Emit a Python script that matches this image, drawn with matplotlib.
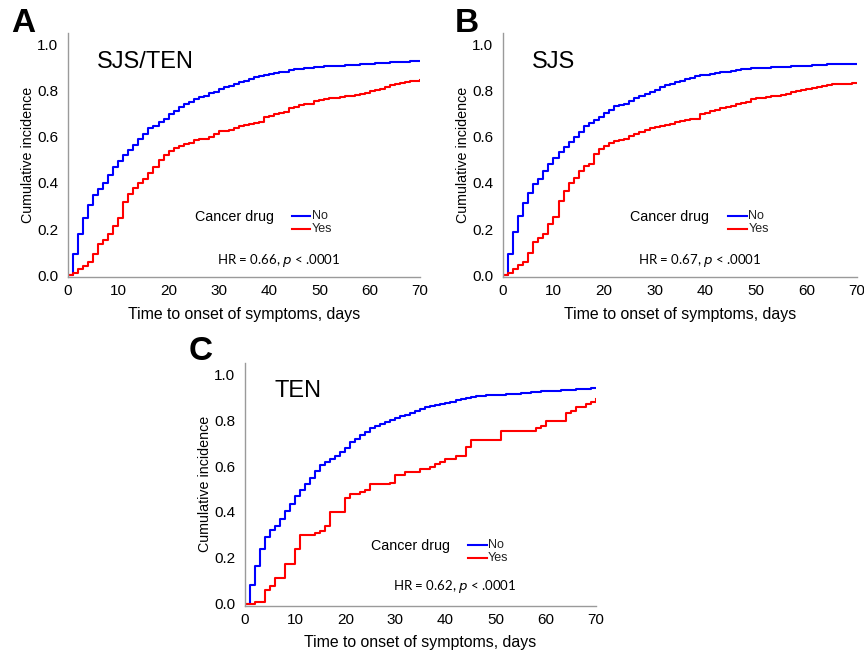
import numpy as np
import matplotlib.pyplot as plt

plt.rcParams['font.family'] = ['Liberation Sans', 'DejaVu Sans']

days = list(range(71))

# Panel A: SJS/TEN
a_no = [0.0, 0.091, 0.178, 0.25, 0.303, 0.347, 0.373, 0.40, 0.435, 0.467, 0.494,
        0.52, 0.542, 0.566, 0.592, 0.614, 0.636, 0.647, 0.662, 0.679, 0.697,
        0.711, 0.727, 0.74, 0.751, 0.763, 0.772, 0.779, 0.788, 0.796, 0.806,
        0.815, 0.822, 0.83, 0.837, 0.844, 0.851, 0.858, 0.863, 0.868, 0.873,
        0.877, 0.880, 0.883, 0.888, 0.892, 0.895, 0.898, 0.900, 0.902, 0.904,
        0.905, 0.906, 0.908, 0.909, 0.910, 0.911, 0.912, 0.914, 0.915, 0.917,
        0.918, 0.920, 0.921, 0.923, 0.924, 0.925, 0.926, 0.927, 0.928, 0.928]
a_yes = [0.0, 0.01, 0.026, 0.04, 0.058, 0.094, 0.137, 0.152, 0.18, 0.212, 0.25,
         0.318, 0.354, 0.38, 0.40, 0.419, 0.444, 0.47, 0.498, 0.52, 0.538,
         0.552, 0.561, 0.568, 0.574, 0.585, 0.589, 0.592, 0.598, 0.61, 0.623,
         0.626, 0.63, 0.638, 0.646, 0.65, 0.655, 0.66, 0.664, 0.686, 0.692,
         0.697, 0.702, 0.707, 0.725, 0.73, 0.736, 0.74, 0.743, 0.754, 0.758,
         0.762, 0.766, 0.769, 0.772, 0.775, 0.777, 0.782, 0.787, 0.792, 0.797,
         0.803, 0.808, 0.816, 0.823, 0.828, 0.833, 0.836, 0.84, 0.844, 0.847]

# Panel B: SJS
b_no = [0.0, 0.094, 0.188, 0.256, 0.314, 0.357, 0.397, 0.419, 0.452, 0.484, 0.506,
        0.535, 0.556, 0.578, 0.60, 0.621, 0.646, 0.658, 0.672, 0.686, 0.704,
        0.715, 0.733, 0.738, 0.743, 0.756, 0.768, 0.777, 0.786, 0.795, 0.804,
        0.814, 0.823, 0.83, 0.837, 0.844, 0.851, 0.857, 0.863, 0.866, 0.868,
        0.872, 0.876, 0.88, 0.883, 0.887, 0.891, 0.893, 0.895, 0.897, 0.898,
        0.899, 0.9, 0.901, 0.902, 0.903, 0.904, 0.906, 0.907, 0.908, 0.909,
        0.911, 0.912, 0.913, 0.914, 0.915, 0.915, 0.916, 0.916, 0.916, 0.916]
b_yes = [0.0, 0.01, 0.025, 0.043, 0.058, 0.097, 0.145, 0.162, 0.18, 0.221, 0.253,
         0.322, 0.366, 0.40, 0.423, 0.452, 0.474, 0.484, 0.525, 0.549, 0.561,
         0.571, 0.581, 0.587, 0.592, 0.605, 0.612, 0.62, 0.628, 0.636, 0.642,
         0.646, 0.65, 0.657, 0.664, 0.668, 0.671, 0.675, 0.678, 0.70, 0.705,
         0.712, 0.718, 0.724, 0.729, 0.735, 0.74, 0.745, 0.75, 0.765, 0.768,
         0.77, 0.772, 0.775, 0.778, 0.781, 0.786, 0.794, 0.799, 0.804, 0.809,
         0.813, 0.818, 0.822, 0.825, 0.827, 0.829, 0.83, 0.831, 0.832, 0.833]

# Panel C: TEN
c_no = [0.0, 0.082, 0.166, 0.237, 0.289, 0.321, 0.338, 0.367, 0.405, 0.436, 0.47,
        0.497, 0.52, 0.549, 0.578, 0.603, 0.617, 0.632, 0.643, 0.663, 0.679,
        0.704, 0.718, 0.736, 0.747, 0.767, 0.776, 0.783, 0.79, 0.8, 0.808,
        0.817, 0.823, 0.832, 0.838, 0.848, 0.856, 0.863, 0.867, 0.872, 0.876,
        0.881, 0.886, 0.891, 0.895, 0.899, 0.903, 0.906, 0.908, 0.909, 0.91,
        0.911, 0.912, 0.914, 0.916, 0.918, 0.92, 0.922, 0.924, 0.925, 0.926,
        0.927, 0.929, 0.930, 0.931, 0.932, 0.934, 0.936, 0.937, 0.938, 0.938]
# fewer patients on cancer drugs -> only the days where the curve jumps
c_yes_t = [0, 2, 4, 5, 6, 8, 10, 11, 14, 15, 16, 17, 20, 21, 23, 24, 25, 29, 30, 32,
           35, 37, 38, 39, 40, 42, 44, 45, 51, 58, 59, 60, 64, 65, 66, 68, 69, 70]
c_yes = [0.0, 0.007, 0.058, 0.078, 0.111, 0.173, 0.237, 0.299, 0.309, 0.318, 0.338,
         0.40, 0.462, 0.477, 0.486, 0.494, 0.52, 0.526, 0.559, 0.576, 0.587, 0.597,
         0.609, 0.619, 0.631, 0.642, 0.681, 0.714, 0.753, 0.765, 0.775, 0.797, 0.83,
         0.84, 0.859, 0.869, 0.879, 0.89]

x_ticks = [0, 10, 20, 30, 40, 50, 60, 70]
y_ticks = [0.0, 0.2, 0.4, 0.6, 0.8, 1.0]


def panel(ax, no_t, no_y, yes_t, yes_y, title, hr, hr_x, hr_y):
    ax.step(no_t, no_y, where='post', color='#0000ff', lw=1.5)
    ax.step(yes_t, yes_y, where='post', color='#ff0000', lw=1.5)
    ax.set_xlim(0, 70)
    ax.set_ylim(-0.01, 1.05)
    ax.set_xticks(x_ticks)
    ax.set_yticks(y_ticks)
    ax.set_yticklabels([f'{v:.1f}' for v in y_ticks])
    ax.tick_params(length=0, labelsize=11)
    ax.tick_params(axis='y', pad=7)
    ax.tick_params(axis='x', pad=5)
    for s in ['top', 'right']:
        ax.spines[s].set_visible(False)
    for s in ['left', 'bottom']:
        ax.spines[s].set_color('#9a9a9a')
        ax.spines[s].set_linewidth(1.0)
    ax.set_xlabel('Time to onset of symptoms, days', fontsize=11.4, labelpad=6)
    ax.set_ylabel('Cumulative incidence', fontsize=10.3, labelpad=1.5)
    ax.text(5.8, 0.925, title, fontsize=17, va='center')
    # hand-made legend like the original
    ax.text(25.2, 0.251, 'Cancer drug', fontsize=10.3, va='center')
    ax.plot([44.5, 48.2], [0.255, 0.255], color='#0000ff', lw=1.5)
    ax.plot([44.5, 48.2], [0.199, 0.199], color='#ff0000', lw=1.5)
    ax.text(48.5, 0.255, 'No', fontsize=9, va='center', color='#222222')
    ax.text(48.5, 0.199, 'Yes', fontsize=9, va='center', color='#222222')
    ax.text(hr_x, hr_y, hr, fontsize=9.5, va='center', family=['Lato', 'DejaVu Sans'])


fig = plt.figure(figsize=(8.64, 6.52), dpi=100)
ax_a = fig.add_axes([0.0787, 0.5744, 0.4074, 0.375])
ax_b = fig.add_axes([0.582, 0.5744, 0.41, 0.375])
ax_c = fig.add_axes([0.2836, 0.0706, 0.406, 0.373])

panel(ax_a, days, a_no, days, a_yes, 'SJS/TEN', 'HR = 0.66, $\\mathit{p}$ < .0001', 29.7, 0.065)
panel(ax_b, days, b_no, days, b_yes, 'SJS', 'HR = 0.67, $\\mathit{p}$ < .0001', 26.7, 0.065)
panel(ax_c, days, c_no, c_yes_t, c_yes, 'TEN', 'HR = 0.62, $\\mathit{p}$ < .0001', 29.5, 0.075)

# panel letters
fig.text(11 / 864, 1 - 23 / 652, 'A', fontsize=24, fontweight='bold', va='center')
fig.text(455 / 864, 1 - 23 / 652, 'B', fontsize=24, fontweight='bold', va='center')
fig.text(189 / 864, 1 - 352 / 652, 'C', fontsize=24, fontweight='bold', va='center')

fig.savefig('out.png', dpi=100)
